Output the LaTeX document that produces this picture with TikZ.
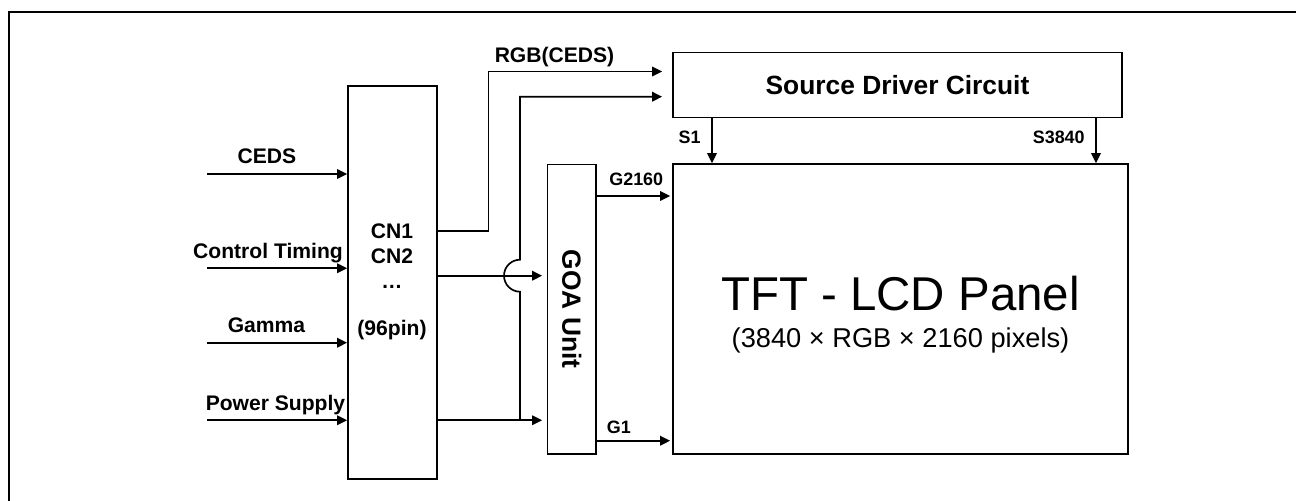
\documentclass[tikz,border=0pt]{standalone}
\usepackage{fontspec}
\setmainfont{Liberation Sans}
\usetikzlibrary{positioning,arrows.meta,calc}

\begin{document}
\begin{tikzpicture}[
  box/.style={draw, line width=0.95pt, inner sep=0pt},
  sig/.style={-{Triangle[length=0.2cm, width=0.19cm]}, line width=0.95pt},
  inlab/.style={font=\fontsize{12}{14.4}\selectfont\bfseries, inner sep=0pt},
  glab/.style={font=\fontsize{10.2}{12}\selectfont\bfseries, inner sep=0pt},
  blab/.style={font=\fontsize{15}{18}\selectfont\bfseries, inner sep=0pt},
]
  \useasboundingbox (0,0) rectangle (25.92,10.02);
  % ---- outer frame (top and left edge only) ---------------------------------
  \draw[line width=1.1pt] (0.18,0) -- (0.18,9.78) -- (25.92,9.78);

  % ---- blocks ---------------------------------------------------------------
  \node[box, minimum width=1.78cm, minimum height=7.86cm] (cn) at (7.85,4.37) {};
  \node[box, minimum width=0.97cm, minimum height=5.79cm] (goa) at (11.435,3.835) {};
  \node[box, blab, minimum width=8.98cm, minimum height=1.30cm] (src) at (17.95,8.32)
    {Source Driver Circuit};
  \node[box, minimum width=9.10cm, minimum height=5.80cm] (tft) at (18.01,3.84) {};

  \node[inlab, align=center, anchor=north] (cnlab) at (7.84,5.56)
    {CN1\\CN2\\…\\[12pt](96pin)};
  \node[blab, rotate=-90] (goalab) at (goa.center) {GOA Unit};
  \node[font=\fontsize{27}{32}\selectfont, inner sep=0pt] (tfttitle)
    at ([yshift=0.313cm]tft.center) {TFT - LCD Panel};
  \node[font=\fontsize{15.5}{18}\selectfont, inner sep=0pt] (tftsub)
    at ([yshift=-0.634cm]tft.center) {(3840 × RGB × 2160 pixels)};

  % ---- inputs to the connector ----------------------------------------------
  \foreach \nm/\y/\lx/\txt in {ceds/6.54/5.34/CEDS,
                               ctrl/4.654/5.36/Control Timing,
                               gam/3.166/5.33/Gamma,
                               pwr/1.614/5.51/Power Supply} {
    \coordinate (\nm) at (4.14,\y);
    \draw[sig] (\nm) -- (\nm -| cn.west);
    \node[inlab, anchor=base] (\nm lab) at (\lx,\y+0.2) {\txt};
  }

  % ---- connector outputs ----------------------------------------------------
  \draw[sig, shorten >=0.2cm] (cn.east |- 0,5.40) -| (9.77,8.59) -- (src.west |- 0,8.59);
  \node[inlab, anchor=base] (rgblab) at (11.09,8.766) {RGB(CEDS)};
  \draw[sig, shorten >=0.09cm] (cn.east |- 0,4.506) -- (goa.west |- 0,4.506);
  \draw[sig, shorten >=0.09cm] (cn.east |- 0,1.614) -- (goa.west |- 0,1.614);
  \coordinate (jn) at (10.40,1.614);
  \draw[sig, shorten >=0.2cm] (jn) -- (10.40,4.186)
    arc[start angle=-90, end angle=-270, radius=0.32] -- (10.40,8.086)
    -- (src.west |- 0,8.086);

  % ---- gate lines -----------------------------------------------------------
  \draw[sig, shorten >=0.04cm] (goa.east |- 0,6.10) -- (tft.west |- 0,6.10);
  \node[glab, anchor=base west] (g2160) at (12.18,6.30) {G2160};
  \draw[sig, shorten >=0.04cm] (goa.east |- 0,1.206) -- (tft.west |- 0,1.206);
  \node[glab, anchor=base west] (g1) at (12.13,1.353) {G1};

  % ---- source lines ---------------------------------------------------------
  \draw[sig] (src.south -| 14.24,0) -- (tft.north -| 14.24,0);
  \node[glab, anchor=east] (s1) at (14.02,7.266) {S1};
  \draw[sig] (src.south -| 21.92,0) -- (tft.north -| 21.92,0);
  \node[glab, anchor=east] (s3840) at (21.70,7.266) {S3840};
\end{tikzpicture}
\end{document}
